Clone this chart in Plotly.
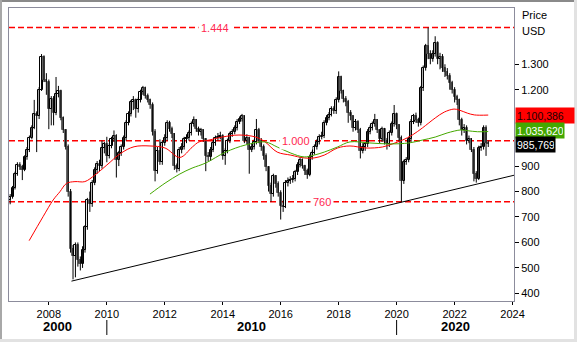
import plotly.graph_objects as go
import pandas as pd

# ---------------- data ----------------
first_month = "2006-09-01"
first_open = 765

close = [780,814,870,905,898,885,935,965,1012,1050,
         1105,1095,1200,1330,1240,1230,1125,1165,1110,1185,
         1195,1090,1040,975,800,575,545,590,530,515,
         570,660,765,750,835,885,910,900,970,985,
         940,980,1005,1018,925,950,975,1010,1070,1105,
         1150,1160,1125,1160,1190,1205,1175,1160,1140,1035,
         880,960,915,990,1010,1070,1045,1025,900,890,
         965,975,1005,1010,1030,1065,1080,1045,1035,1040,
         1005,940,935,965,990,1010,1015,1020,940,960,
         1000,1025,1035,1050,1075,1085,1095,1000,1010,965,
         975,995,1040,1000,975,940,895,820,790,860,
         830,795,745,740,835,840,845,850,875,905,
         925,900,880,865,935,950,975,995,1015,1020,
         1070,1090,1100,1125,1115,1160,1250,1195,1165,1150,
         1110,1095,1050,1075,1040,960,975,985,1035,1050,
         1065,1080,1040,1005,1045,1000,985,1030,1065,1105,
         1060,1010,840,915,925,1005,1075,1095,1080,1070,
         1205,1285,1370,1340,1320,1340,1385,1320,1330,1285,
         1270,1255,1225,1200,1170,1160,1080,1040,1050,1000,
         1005,965,870,850,970,975,1050,990,985.769]

high = [790,822,878,915,915,905,942,975,1020,1060,
        1160,1115,1210,1340,1335,1265,1240,1175,1175,1250,
        1215,1200,1095,1045,985,810,590,600,600,545,
        585,668,775,800,845,895,920,925,1000,995,
        1015,990,1015,1040,1025,960,985,1020,1080,1115,
        1160,1175,1165,1170,1200,1215,1212,1185,1165,1150,
        1045,975,1005,1000,1025,1080,1078,1055,1030,910,
        975,990,1015,1025,1040,1075,1095,1085,1055,1050,
        1045,1010,955,975,1000,1020,1030,1035,1025,970,
        1008,1035,1045,1060,1085,1095,1105,1100,1025,1015,
        990,1005,1085,1050,1010,985,950,900,835,870,
        865,840,805,765,845,855,860,865,885,915,
        935,930,905,890,945,960,985,1005,1025,1035,
        1080,1100,1112,1135,1135,1170,1272,1255,1200,1175,
        1160,1120,1100,1085,1080,1050,990,995,1045,1060,
        1075,1105,1085,1045,1055,1050,1010,1040,1075,1140,
        1110,1065,1020,925,935,1015,1085,1105,1110,1090,
        1215,1295,1380,1444,1355,1355,1410,1390,1345,1340,
        1300,1285,1265,1235,1210,1180,1165,1090,1065,1060,
        1020,1010,975,880,980,990,1060,1060,1000]

low = [750,772,808,862,885,845,880,925,955,1005,
       1045,955,1085,1195,1230,1180,1045,1060,1060,1100,
       1170,1080,1030,965,780,560,455,463,505,490,
       500,560,650,720,740,825,870,880,890,950,
       915,930,970,995,855,900,940,965,1000,1060,
       1095,1120,1090,1110,1150,1180,1165,1150,1125,1020,
       840,870,905,905,980,1000,1035,1010,885,875,
       880,950,965,990,1000,1020,1055,1035,1020,1020,
       995,880,920,920,955,980,1000,1005,925,905,
       950,990,1015,1025,1040,1065,1075,990,985,870,
       955,965,985,990,960,925,880,800,760,780,
       815,780,690,720,735,820,830,835,840,865,
       895,890,865,850,860,925,945,965,985,1005,
       1010,1060,1080,1095,1105,1105,1150,1185,1150,1135,
       1070,1080,1035,1040,1030,930,950,960,975,1025,
       1040,1055,1030,990,995,985,965,975,1020,1055,
       1045,995,760,830,905,915,995,1065,1070,1055,
       1060,1195,1275,1320,1300,1310,1330,1300,1280,1270,
       1250,1240,1200,1185,1150,1140,1060,1020,1030,985,
       990,955,840,835,845,960,965,940,975]

red_ma_years = [2007.32,2007.80,2008.15,2008.38,2008.61,2008.90,2009.24,2009.59,2010.00,2010.48,
                2010.94,2011.49,2012.01,2012.52,2012.95,2013.18,2013.52,2013.98,2014.56,2015.14,
                2015.46,2015.88,2016.35,2016.81,2017.15,2017.50,2017.96,2018.39,2018.94,2019.51,
                2019.85,2020.20,2020.54,2020.89,2021.33,2021.64,2021.98,2022.16,2022.44,2022.68,2023.16]
red_ma_values = [607,701,767,799,832,839,839,865,904,950,
                 976,979,971,934,975,995,1002,1014,1022,1014,
                 995,955,943,932,932,943,971,979,971,975,
                 987,1002,1022,1050,1089,1112,1124,1120,1108,1101,1100.386]

green_ma_years = [2011.49,2012.01,2012.52,2012.94,2013.41,2014.10,2014.79,2015.46,2015.88,2016.35,
                  2016.81,2017.15,2017.50,2017.96,2018.39,2019.05,2019.74,2020.43,2020.88,2021.33,
                  2021.74,2022.22,2022.44,2022.79,2023.16]
green_ma_values = [790,833,869,892,912,955,983,995,975,951,
                   936,943,955,975,995,991,987,991,1002,1014,
                   1030,1042,1039,1035,1035.620]

trend_years = [2008.78, 2024.05]
trend_values = [448, 864]

level_values = [1444, 1000, 760]
level_labels = ["1.444", "1.000", "760"]
level_label_years = [2013.72, 2016.51, 2017.41]

y_tickvals = [400, 500, 600, 700, 800, 900, 1200, 1300]
y_ticktext = ["400", "500", "600", "700", "800", "900", "1.200", "1.300"]

decade_labels = ["2000", "2010", "2020"]
decade_label_years = [2008.31, 2015.0, 2022.02]
decade_separators = ["2010-01-01", "2020-01-01"]

box_values = [1100.386, 1035.620, 985.769]
box_texts = ["1.100,386", "1.035,620", "985,769"]
box_colors = ["#FF0000", "#44A800", "#000000"]
box_font_colors = ["#1a0000", "#FFFFFF", "#FFFFFF"]
box_widths = [56, 46, 37]
box_yshift = [0, 1, 0]

x_range_years = [2006.625, 2024.05]
y_range = [370, 1521]


def yr(y):
    year = int(y)
    start = pd.Timestamp(year, 1, 1)
    end = pd.Timestamp(year + 1, 1, 1)
    return start + (end - start) * (y - year)


dates = pd.date_range(first_month, periods=len(close), freq="MS")
opens = [first_open] + close[:-1]

FONT = "Liberation Sans, Arial"

# ---------------- figure ----------------
fig = go.Figure()

# wicks
wx, wy = [], []
for d, h, l in zip(dates, high, low):
    wx += [d, d, None]
    wy += [l, h, None]
fig.add_trace(go.Scatter(x=wx, y=wy, mode="lines",
                         line=dict(color="#000000", width=1),
                         hoverinfo="skip", showlegend=False))

# bodies
base = [min(o, c) for o, c in zip(opens, close)]
size = [max(abs(c - o), 0.8) for o, c in zip(opens, close)]
fill = ["#FFFFFF" if c >= o else "#666666" for o, c in zip(opens, close)]
edge = ["#000000" if c >= o else "#666666" for o, c in zip(opens, close)]
fig.add_trace(go.Bar(x=dates, y=size, base=base,
                     width=[26 * 86400000] * len(dates),
                     marker=dict(color=fill, line=dict(color=edge, width=1)),
                     showlegend=False, hoverinfo="skip"))

# moving averages
fig.add_trace(go.Scatter(x=[yr(v) for v in red_ma_years], y=red_ma_values,
                         mode="lines", line=dict(color="#FF0000", width=1, shape="spline"),
                         showlegend=False, hoverinfo="skip"))
fig.add_trace(go.Scatter(x=[yr(v) for v in green_ma_years], y=green_ma_values,
                         mode="lines", line=dict(color="#44A800", width=1, shape="spline"),
                         showlegend=False, hoverinfo="skip"))

# trend line
fig.add_trace(go.Scatter(x=[yr(v) for v in trend_years], y=trend_values,
                         mode="lines", line=dict(color="#000000", width=1),
                         showlegend=False, hoverinfo="skip"))

shapes = []
annotations = []

# horizontal dashed levels
for v, lab, ly in zip(level_values, level_labels, level_label_years):
    shapes.append(dict(type="line", xref="paper", x0=0, x1=1, yref="y", y0=v, y1=v,
                       line=dict(color="#FF0000", width=1.5, dash="6px,3px"), layer="below"))
    annotations.append(dict(x=yr(ly), y=v, xref="x", yref="y", text=lab, showarrow=False,
                            font=dict(family=FONT, size=11, color="#FF2850"),
                            bgcolor="#FFFFFF", borderpad=2, xanchor="center", yanchor="middle"))

# value boxes on right
for v, t, bc, fc, w, ys in zip(box_values, box_texts, box_colors, box_font_colors, box_widths, box_yshift):
    annotations.append(dict(x=1, y=v, xref="paper", yref="y", text=t, showarrow=False,
                            xanchor="left", yanchor="middle", align="left", width=w, height=13,
                            bgcolor=bc, borderpad=1, yshift=ys, xshift=1,
                            font=dict(family=FONT, size=10.5, color=fc)))

# axis title labels
annotations.append(dict(x=1.0119, y=0.976, xref="paper", yref="paper", text="Price",
                        showarrow=False, xanchor="left", yanchor="middle",
                        font=dict(family=FONT, size=11, color="#000000")))
annotations.append(dict(x=1.0119, y=0.9215, xref="paper", yref="paper", text="USD",
                        showarrow=False, xanchor="left", yanchor="middle",
                        font=dict(family=FONT, size=11, color="#000000")))

# decade row
for lab, ly in zip(decade_labels, decade_label_years):
    annotations.append(dict(x=yr(ly), y=-0.0877, xref="x", yref="paper", text="<b>" + lab + "</b>",
                            showarrow=False, xanchor="center", yanchor="middle",
                            font=dict(family=FONT, size=13, color="#000000")))
for d in decade_separators:
    shapes.append(dict(type="line", xref="x", x0=d, x1=d, yref="paper", y0=-0.0648, y1=-0.116,
                       line=dict(color="#000000", width=1)))

# outer frame (inset look)
W, H = 577, 342
L, R, T, B = 9, 63, 8, 41
pw, ph = W - L - R, H - T - B


def px(xp):
    return (xp - L) / pw


def py(yp):
    return (H - B - yp) / ph


shapes += [
    dict(type="line", xref="paper", yref="paper", x0=px(0), x1=px(W), y0=py(1), y1=py(1),
         line=dict(color="#8A8A8A", width=2)),
    dict(type="line", xref="paper", yref="paper", x0=px(1), x1=px(1), y0=py(0), y1=py(H),
         line=dict(color="#A8A8A8", width=2)),
    dict(type="line", xref="paper", yref="paper", x0=px(0), x1=px(W), y0=py(340.5), y1=py(340.5),
         line=dict(color="#E2E2E2", width=3)),
    dict(type="line", xref="paper", yref="paper", x0=px(575.5), x1=px(575.5), y0=py(0), y1=py(H),
         line=dict(color="#E2E2E2", width=3)),
]

fig.update_layout(
    width=W, height=H, autosize=False,
    margin=dict(l=L, r=R, t=T, b=B, pad=0),
    paper_bgcolor="#FFFFFF", plot_bgcolor="#FFFFFF",
    showlegend=False, shapes=shapes, annotations=annotations,
    font=dict(family=FONT, size=11, color="#000000"),
    xaxis=dict(type="date", range=[yr(x_range_years[0]), yr(x_range_years[1])],
               tickformat="%Y", dtick="M24", tick0="2008-01-01",
               ticks="outside", ticklen=3, tickcolor="#000000", tickwidth=1,
               showgrid=False, zeroline=False,
               showline=True, linecolor="#8C8C9C", linewidth=1, mirror=True,
               tickfont=dict(family=FONT, size=11, color="#000000")),
    yaxis=dict(range=y_range, side="right", tickvals=y_tickvals, ticktext=y_ticktext,
               ticks="outside", ticklen=4, tickcolor="#000000", tickwidth=1,
               showgrid=False, zeroline=False,
               showline=True, linecolor="#8C8C9C", linewidth=1, mirror=True,
               tickfont=dict(family=FONT, size=11, color="#000000")),
    bargap=0,
)

fig.write_html("out.html")
